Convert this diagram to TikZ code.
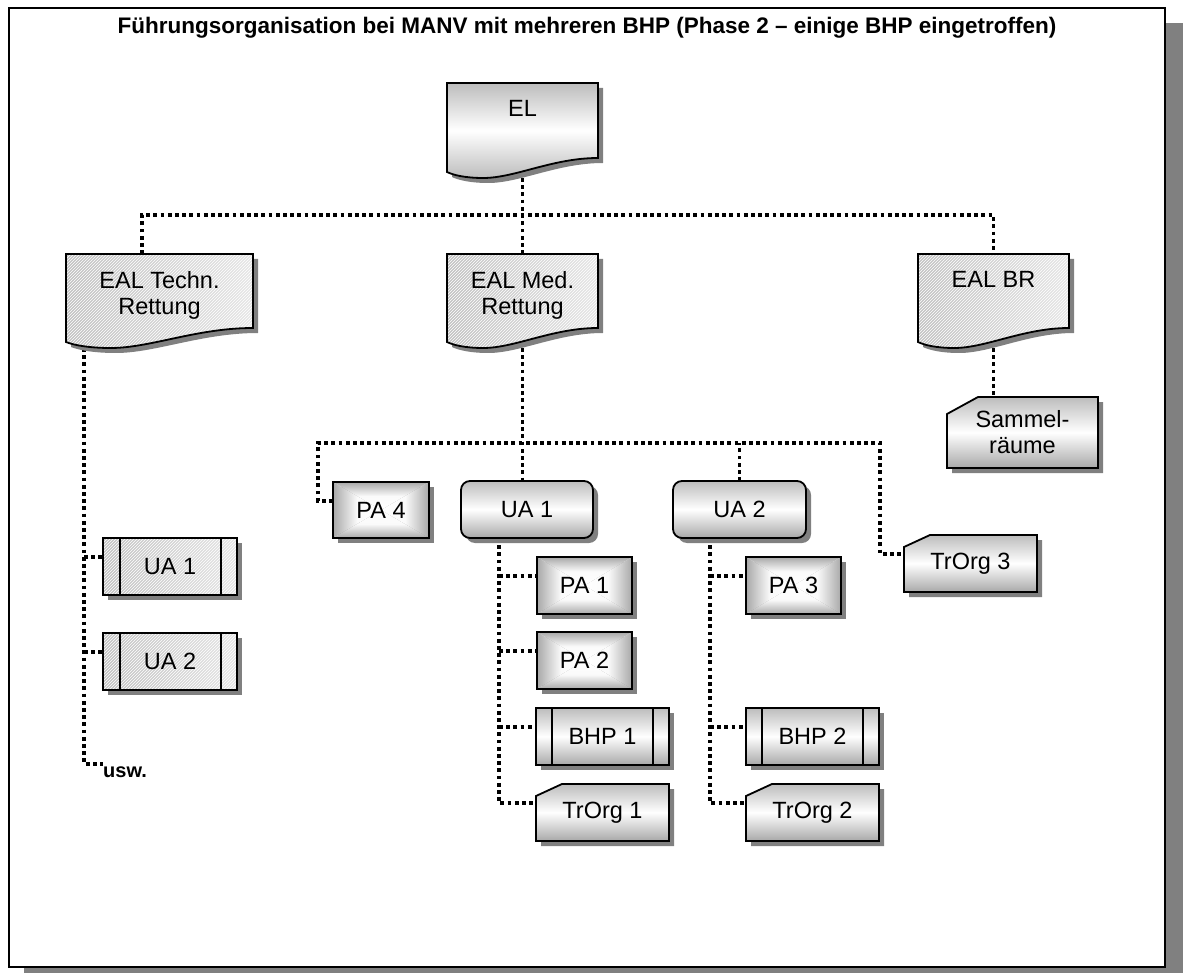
\documentclass[tikz,border=0pt]{standalone}
\usepackage{fontspec}
\setmainfont{Liberation Sans}
\usetikzlibrary{calc,patterns}

\pgfdeclarelayer{frame}
\pgfdeclarelayer{wires}
\pgfdeclarelayer{shapes}
\pgfsetlayers{frame,wires,shapes,main}

\definecolor{shadowgray}{gray}{0.50}
\definecolor{edgegray}{gray}{0.66}
\definecolor{rimgray}{gray}{0.66}
\definecolor{midgray}{gray}{0.98}
\definecolor{softgray}{gray}{0.74}
\definecolor{hatchdark}{gray}{0.76}
\definecolor{hatchlight}{gray}{0.90}

\newcommand\nodefont{\fontsize{23.5}{26}\selectfont}
\newcommand\titlefont{\fontsize{22.5}{26}\selectfont\bfseries}
\newcommand\uswfont{\fontsize{20}{22}\selectfont\bfseries}

% outlines of the box kinds, built from node anchors
\newcommand\rectpath[1]{(#1.north west) rectangle (#1.south east)}
\newcommand\roundpath[1]{[rounded corners=9pt] (#1.north west) rectangle (#1.south east)}
\newcommand\docpath[1]{(#1.north west) -- (#1.north east) -- ([yshift=20pt]#1.south east)
  .. controls ($(#1.south east)!0.30!(#1.south west)+(0pt,20pt)$) and ($(#1.south east)!0.55!(#1.south west)$)
  .. ($(#1.south east)!0.76!(#1.south west)$)
  .. controls ($(#1.south east)!0.88!(#1.south west)$) and ($(#1.south east)!0.96!(#1.south west)+(0pt,3pt)$)
  .. ([yshift=6pt]#1.south west) -- cycle}
\newcommand\cardpath[3]{(#1.south west) -- ([yshift=-#2]#1.north west) -- ([xshift=#3]#1.north west)
  -- (#1.north east) -- (#1.south east) -- cycle}

\newcommand\castshadow[1]{\fill[shadowgray, transform canvas={shift={(5pt,-5pt)}}] #1;}

% rectangular gradient: white centre, grey rim
\newcommand\pyramidbox[1]{%
  \castshadow{\rectpath{#1}}
  \shade[top color=rimgray, bottom color=white, middle color=midgray]
    (#1.north west) -- (#1.north east) -- (#1.center) -- cycle;
  \shade[top color=white, bottom color=rimgray, middle color=midgray]
    (#1.south west) -- (#1.south east) -- (#1.center) -- cycle;
  \shade[left color=rimgray, right color=white, middle color=midgray]
    (#1.north west) -- (#1.south west) -- (#1.center) -- cycle;
  \shade[left color=white, right color=rimgray, middle color=midgray]
    (#1.north east) -- (#1.south east) -- (#1.center) -- cycle;
  \draw[outline] \rectpath{#1};}

% hatched document shape
\newcommand\hatchdoc[1]{%
  \castshadow{\docpath{#1}}
  \shade[left color=hatchdark, right color=hatchlight] \docpath{#1};
  \fill[pattern=north east lines, pattern color=white] \docpath{#1};
  \draw[outline] \docpath{#1};}

% hatched process box with side bars
\newcommand\hatchproc[1]{%
  \castshadow{\rectpath{#1}}
  \shade[left color=hatchdark, right color=hatchlight] \rectpath{#1};
  \fill[pattern=north east lines, pattern color=white] \rectpath{#1};
  \draw[outline] \rectpath{#1};
  \draw[outline] ([xshift=17pt]#1.north west) -- ([xshift=17pt]#1.south west)
                 ([xshift=-16pt]#1.north east) -- ([xshift=-16pt]#1.south east);}

% banded process box with side bars
\newcommand\bandproc[1]{%
  \castshadow{\rectpath{#1}}
  \shade[top color=softgray, bottom color=edgegray, middle color=white] \rectpath{#1};
  \draw[outline] \rectpath{#1};
  \draw[outline] ([xshift=16pt]#1.north west) -- ([xshift=16pt]#1.south west)
                 ([xshift=-16pt]#1.north east) -- ([xshift=-16pt]#1.south east);}

\newcommand\roundbox[1]{%
  \castshadow{\roundpath{#1}}
  \shade[top color=softgray, bottom color=edgegray, middle color=white] \roundpath{#1};
  \draw[outline] \roundpath{#1};}

\newcommand\cardbox[3]{%
  \castshadow{\cardpath{#1}{#2}{#3}}
  \shade[top color=softgray, bottom color=edgegray, middle color=white] \cardpath{#1}{#2}{#3};
  \draw[outline] \cardpath{#1}{#2}{#3};}

\begin{document}
\begin{tikzpicture}[x=1pt, y=-1pt,
  outline/.style={draw=black, line width=1.8pt, line join=miter},
  conn/.style={line width=3.8pt, dash pattern=on 3.8pt off 3.4pt},
  orgbox/.style 2 args={inner sep=0pt, outer sep=0pt, minimum width=#1, minimum height=#2,
                        font=\nodefont, align=center},
  lbl/.style={inner sep=0pt, outer sep=0pt, anchor=north, font=\nodefont, align=center}]

\clip (0,0) rectangle (1183,973);

% title
\node[font=\titlefont, inner sep=0pt] (title) at (587,28)
  {Führungsorganisation bei MANV mit mehreren BHP (Phase 2 – einige BHP eingetroffen)};

% top levels
\node[orgbox={151pt}{95pt}] (el)   at (522.5,130.5) {};
\node[lbl] (elt) at ([yshift=-17pt]el.north) {EL};
\node[orgbox={187pt}{94pt}] (eal1) at (159.5,301) {};
\node[lbl] (eal1t) at ([yshift=-17pt]eal1.north) {EAL Techn.\\Rettung};
\node[orgbox={151pt}{94pt}] (eal2) at (522.5,301) {};
\node[lbl] (eal2t) at ([yshift=-17pt]eal2.north) {EAL Med.\\Rettung};
\node[orgbox={151pt}{94pt}] (eal3) at (993.5,301) {};
\node[lbl] (eal3t) at ([yshift=-17pt]eal3.north) {EAL BR};

% technical rescue branch
\node[orgbox={134pt}{57pt}] (uat1) at (170,566.5) {UA 1};
\node[orgbox={134pt}{57pt}] (uat2) at (170,661.5) {UA 2};
\node[font=\uswfont, inner sep=0pt, anchor=base west] (usw) at (103,777) {usw.};

% medical rescue branch
\node[orgbox={96pt}{56pt}]  (pa4) at (381,510) {PA 4};
\node[orgbox={132pt}{57pt}] (ua1) at (527,509.5) {UA 1};
\node[orgbox={133pt}{57pt}] (ua2) at (739.5,509.5) {UA 2};
\node[orgbox={133pt}{57pt}] (tr3) at (970.5,563.5) {TrOrg 3};
\node[orgbox={95pt}{57pt}]  (pa1) at (584.5,585.5) {PA 1};
\node[orgbox={95pt}{57pt}]  (pa2) at (584.5,660.5) {PA 2};
\node[orgbox={133pt}{57pt}] (bhp1) at (602.5,736.5) {BHP 1};
\node[orgbox={133pt}{57pt}] (tr1) at (602.5,812.5) {TrOrg 1};
\node[orgbox={95pt}{57pt}]  (pa3) at (793.5,585.5) {PA 3};
\node[orgbox={133pt}{57pt}] (bhp2) at (812.5,736.5) {BHP 2};
\node[orgbox={133pt}{57pt}] (tr2) at (812.5,812.5) {TrOrg 2};

% provisioning branch
\node[orgbox={151pt}{71pt}] (sammel) at (1022.5,432.5) {Sammel-\\räume};

% junction points of the connectors
\coordinate (bus1) at (0,215);
\coordinate (bus2l) at (318,443);
\coordinate (bus2r) at (880,443);
\coordinate (eal1top) at ([xshift=-17.5pt]eal1.north);
\coordinate (techtrunk) at ([xshift=18pt]eal1.south west);
\coordinate (ua1trunk) at ([xshift=-28pt]ua1.south);
\coordinate (ua2trunk) at ([xshift=-29.5pt]ua2.south);
\coordinate (usw-in)  at ([yshift=8pt]usw.west);
\coordinate (uat1-in) at ([yshift=-19pt]uat1.north west);
\coordinate (uat2-in) at ([yshift=-19pt]uat2.north west);
\coordinate (pa4-in)  at ([yshift=-19pt]pa4.north west);
\coordinate (tr3-in)  at ([yshift=-19pt]tr3.north west);
\coordinate (pa1-in)  at ([yshift=-19pt]pa1.north west);
\coordinate (pa2-in)  at ([yshift=-19pt]pa2.north west);
\coordinate (bhp1-in) at ([yshift=-19pt]bhp1.north west);
\coordinate (tr1-in)  at ([yshift=-19pt]tr1.north west);
\coordinate (pa3-in)  at ([yshift=-19pt]pa3.north west);
\coordinate (bhp2-in) at ([yshift=-19pt]bhp2.north west);
\coordinate (tr2-in)  at ([yshift=-19pt]tr2.north west);

\begin{pgfonlayer}{frame}
  \fill[white] (0,0) rectangle (1183,973);
  \fill[shadowgray] (24,23) rectangle (1200,1000);
  \draw[fill=white, line width=2pt] (9,8) rectangle (1165,967);
\end{pgfonlayer}

\begin{pgfonlayer}{wires}
  \draw[conn] (el.south) -- (el.south |- bus1);
  \draw[conn] (eal1top) -- (eal1top |- bus1) -- (eal3.north |- bus1) -- (eal3.north);
  \draw[conn] (eal2.north) -- (eal2.north |- bus1);
  % technical rescue
  \draw[conn] (techtrunk) |- (usw-in);
  \draw[conn] (techtrunk |- uat1-in) -- (uat1-in);
  \draw[conn] (techtrunk |- uat2-in) -- (uat2-in);
  % medical rescue
  \draw[conn] (eal2.south) -- (eal2.south |- ua1.north);
  \draw[conn] (pa4-in) -| (bus2l) -- (bus2r) |- (tr3-in);
  \draw[conn] (ua2.north) -- (ua2.north |- bus2l);
  \draw[conn] (ua1trunk) |- (tr1-in);
  \draw[conn] (ua1trunk |- pa1-in) -- (pa1-in);
  \draw[conn] (ua1trunk |- pa2-in) -- (pa2-in);
  \draw[conn] (ua1trunk |- bhp1-in) -- (bhp1-in);
  \draw[conn] (ua2trunk) |- (tr2-in);
  \draw[conn] (ua2trunk |- pa3-in) -- (pa3-in);
  \draw[conn] (ua2trunk |- bhp2-in) -- (bhp2-in);
  % provisioning
  \draw[conn] (eal3.south) -- (eal3.south |- sammel.north);
\end{pgfonlayer}

\begin{pgfonlayer}{shapes}
  % head of operations
  \castshadow{\docpath{el}}
  \shade[top color=softgray, bottom color=softgray, middle color=white] \docpath{el};
  \draw[outline] \docpath{el};
  % section leaders
  \hatchdoc{eal1}
  \hatchdoc{eal2}
  \hatchdoc{eal3}
  % sub-sections
  \hatchproc{uat1}
  \hatchproc{uat2}
  \roundbox{ua1}
  \roundbox{ua2}
  \bandproc{bhp1}
  \bandproc{bhp2}
  % patient areas
  \pyramidbox{pa1}
  \pyramidbox{pa2}
  \pyramidbox{pa3}
  \pyramidbox{pa4}
  % transport and collection
  \cardbox{tr1}{12pt}{26pt}
  \cardbox{tr2}{12pt}{26pt}
  \cardbox{tr3}{12pt}{26pt}
  \cardbox{sammel}{17pt}{31pt}
\end{pgfonlayer}

\end{tikzpicture}
\end{document}
